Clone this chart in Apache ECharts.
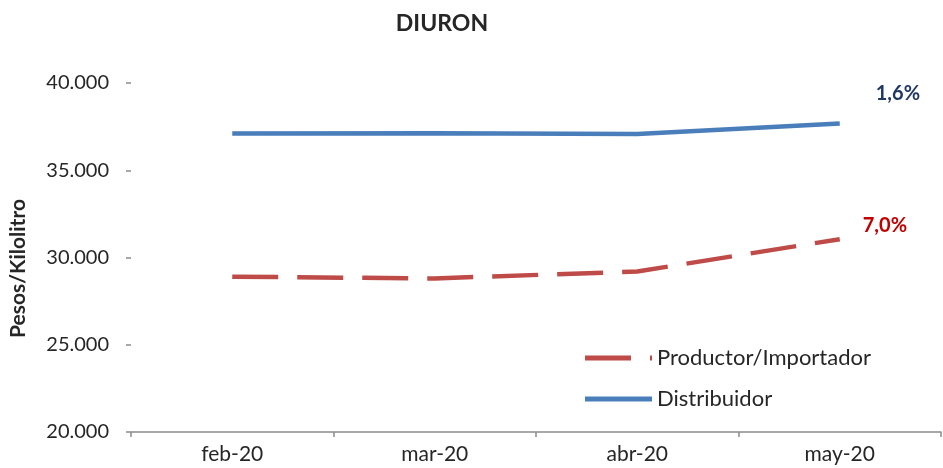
<!DOCTYPE html>
<html>
<head>
<meta charset="utf-8">
<script src="https://cdn.jsdelivr.net/npm/echarts@6/dist/echarts.min.js"></script>
<style>
  html, body { margin: 0; padding: 0; background: #fff; }
  #chart { width: 943px; height: 468px; }
</style>
</head>
<body>
<div id="chart"></div>
<script>
  // datos del grafico
  var meses = ['feb-20', 'mar-20', 'abr-20', 'may-20'];
  var productor = [28900, 28800, 29200, 31050];
  var distribuidor = [37100, 37120, 37080, 37680];
  var variaciones = ['7,0%', '1,6%'];

  var fuente = 'Lato, "Open Sans", sans-serif';

  var chart = echarts.init(document.getElementById('chart'));
  chart.setOption({
    animation: false,
    title: {
      text: 'DIURON',
      left: 437,
      top: 7,
      textAlign: 'center',
      textStyle: { fontSize: 23, fontWeight: 'bold', color: '#262626', fontFamily: fuente }
    },
    grid: { left: 127, right: 2, top: 83, bottom: 36 },
    legend: {
      orient: 'vertical',
      left: 580,
      top: 342,
      itemWidth: 67,
      itemHeight: 5,
      itemGap: 19,
      textStyle: { fontSize: 22, color: '#262626', fontFamily: fuente },
      data: [
        { name: 'Productor/Importador', icon: 'path://M0,0h46v5h-46z M65,0h2v5h-2z' },
        { name: 'Distribuidor', icon: 'rect' }
      ]
    },
    xAxis: {
      type: 'category',
      data: meses,
      boundaryGap: true,
      axisLine: { lineStyle: { color: '#8c8c8c', width: 1.5 } },
      axisTick: { show: true, length: 5, lineStyle: { color: '#8c8c8c', width: 1.5 } },
      axisLabel: { fontSize: 21, color: '#262626', fontFamily: fuente, margin: 12 }
    },
    yAxis: {
      type: 'value',
      min: 20000,
      max: 40000,
      interval: 5000,
      name: 'Pesos/Kilolitro',
      nameLocation: 'middle',
      nameGap: 102,
      nameTextStyle: { fontSize: 21, fontWeight: 'bold', color: '#262626', fontFamily: fuente, padding: [0, 22, 0, 0] },
      axisLine: { show: false },
      axisTick: { show: true, length: 5, lineStyle: { color: '#8c8c8c', width: 1.5 } },
      splitLine: { show: false },
      axisLabel: {
        fontSize: 20,
        color: '#262626',
        fontFamily: fuente,
        margin: 22,
        formatter: function (v) {
          return v.toString().replace(/\B(?=(\d{3})+(?!\d))/g, '.');
        }
      }
    },
    series: [
      {
        name: 'Productor/Importador',
        type: 'line',
        symbol: 'none',
        data: productor,
        lineStyle: { color: '#be4b48', width: 4.5, type: [46, 19] },
        itemStyle: { color: '#be4b48' },
        endLabel: {
          show: true,
          formatter: variaciones[0],
          color: '#c00000',
          fontWeight: 'bold',
          fontSize: 20,
          fontFamily: fuente,
          offset: [15, -14]
        }
      },
      {
        name: 'Distribuidor',
        type: 'line',
        symbol: 'none',
        data: distribuidor,
        lineStyle: { color: '#4a7ebb', width: 4.5 },
        itemStyle: { color: '#4a7ebb' },
        endLabel: {
          show: true,
          formatter: variaciones[1],
          color: '#1f3864',
          fontWeight: 'bold',
          fontSize: 20,
          fontFamily: fuente,
          offset: [28, -30]
        }
      }
    ]
  });
</script>
</body>
</html>
